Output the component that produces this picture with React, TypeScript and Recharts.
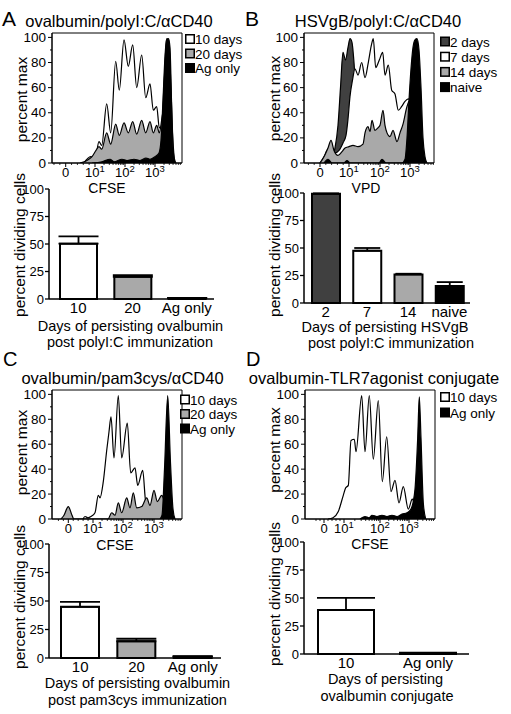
import React from "react";
import {
  ComposedChart,
  Area,
  XAxis,
  YAxis,
  ReferenceArea,
  BarChart,
  Bar,
  Cell,
  ErrorBar,
} from "recharts";

const FONT = '"Liberation Sans", Arial, Helvetica, sans-serif';
const WHITE = "#ffffff";
const GRAY = "#a9a9a9";
const DARK = "#404040";
const BLACK = "#000000";

// histograms: [channel position along the logicle axis, percent of max]
const a10days: [number, number][] = [[32,0],[38.7,5],[43,3],[47,17],[49.7,14],[54.7,47],[58.7,24],[63.7,81],[67.3,58],[72,98],[76.3,77],[80.7,94],[84.7,60],[89.7,86],[93.7,52],[98,63],[101.3,42],[104.7,45],[107.3,28],[109.7,30],[112,62],[114.7,99],[116.5,97],[118.5,70],[120.5,25],[122.5,0]];
const a20days: [number, number][] = [[28,0],[35,2],[40,5],[44,10],[47,13],[49.7,11],[54.7,24],[58.7,15],[63.7,31],[67.3,22],[72,32],[76.3,24],[80.7,33],[84.7,23],[89.7,34],[93.7,24],[98,33],[101.3,24],[104.7,30],[107.3,24],[110,36],[112,46],[114,50],[116,40],[119,15],[122,0]];
const aAgOnly: [number, number][] = [[40,0],[50,1],[58,3],[62,1],[70,3],[75,2],[82,3],[88,2],[94,4],[98,3],[103,5],[107,8],[109,18],[111,50],[113,85],[114.5,98],[116.5,99],[118,92],[119.5,50],[121,12],[122.5,3],[124,0]];

const b2days: [number, number][] = [[18,0],[24,2],[28,4],[31,12],[34,30],[36.5,60],[39,88],[41.5,82],[44,92],[46,99],[48,96],[50,80],[52,55],[55,28],[58,10],[62,2],[66,0]];
const b7days: [number, number][] = [[16,0],[20,5],[23,10],[27,13],[31,8],[35,10],[39,16],[42,22],[44,35],[46,53],[48.5,66],[51,75],[54,70],[57.7,80],[61,68],[64.3,80],[67.7,95],[69.3,99],[71.7,76],[75.3,82],[78.7,88],[81,70],[84.3,78],[87.7,58],[91,55],[94.3,42],[97.7,45],[101,49],[104.3,51],[108,45],[112,20],[116,0]];
const b14days: [number, number][] = [[16,0],[20,5],[24,12],[27,18],[30,10],[34,6],[38,9],[41,12],[45,13],[49,14],[54,13],[59,15],[61,24],[64,29],[66,25],[68,34],[71,26],[74,28],[76,30],[79,42],[81,30],[83,24],[86,21],[89,26],[93,17],[96,24],[99,31],[103,45],[106,50],[110,48],[114,30],[118,10],[122,0]];
const bNaive: [number, number][] = [[20,0],[24,3],[28,0],[40,0],[43,2],[46,0],[75,0],[78,3],[82,0],[98,0],[101,3],[103,20],[105,50],[107,75],[109,92],[111,98],[113,99],[115,90],[117,60],[119,20],[121,5],[123,0]];

const c10days: [number, number][] = [[31,0],[33,2],[36,1],[39,2],[43,5],[46.3,19],[48,17],[51.3,30],[54.7,55],[57,70],[59,82],[62,49],[66.3,99],[69.7,49],[75.3,77],[78.7,37],[83,41],[85.7,27],[90.7,39],[93.7,14],[97,10],[101,6],[105,0]];
const c20days: [number, number][] = [[9,0],[12,3],[16.3,10],[20,3],[22,0],[56,0],[59.7,5],[63,3],[66.3,13],[69.7,5],[74.7,17],[78,9],[81.3,21],[84.7,9],[89.7,10],[94.7,17],[98,11],[102,23],[105.3,14],[109.7,19],[112,15],[115,3],[117,0]];
const cAgOnly: [number, number][] = [[108,0],[110,3],[112.5,40],[115.7,99],[118.5,45],[121,8],[123,0]];

const d10days: [number, number][] = [[23,0],[28,1],[33.3,6],[38.3,19],[40.7,25],[43.3,27],[46,63],[49.3,64],[51,54],[56.7,99],[60,54],[64.3,99],[68.3,48],[73.3,95],[77.3,30],[81.7,66],[86,22],[90,31],[94,13],[98.3,26],[103.3,8],[107.3,16],[110,10],[114,0]];
const dAgOnly: [number, number][] = [[55,0],[60,2],[64,1],[67,3],[72,2],[77,3],[82,2],[87,3],[92,2],[97,4],[102,5],[106,8],[108,13],[110,24],[112.7,65],[114.3,98],[116,65],[118.3,13],[120.7,0]];

// decade positions (0, 10^1, 10^2, 10^3) on each histogram axis
const aDecades = [13.7, 43, 73, 103];
const bDecades = [16, 45, 76, 106];
const cDecades = [16.3, 41, 71, 102];
const dDecades = [19, 39, 75, 104];
const decadeLabels = ["0", "1", "2", "3"];

// bar charts: percent dividing cells
const aCats = ["10", "20", "Ag only"];
const aVals = [50.3, 20.2, 0.8];
const aErrs = [6.7, 1.5, 0.3];
const bCats = ["2", "7", "14", "naive"];
const bVals = [99.3, 47.5, 26, 15.5];
const bErrs = [0.3, 2.5, 0.6, 3.5];
const cCats = ["10", "20", "Ag only"];
const cVals = [44.9, 14.7, 1.2];
const cErrs = [4.4, 2.2, 0.4];
const dCats = ["10", "Ag only"];
const dVals = [39.2, 1.0];
const dErrs = [10.9, 0.2];

const pctTicks = [0, 10, 20, 30, 40, 50, 60, 70, 80, 90, 100];

function minorTicks(dec: number[]) {
  const out: number[] = [];
  const step = (dec[1] - dec[0]) / 5;
  for (let k = -2; k < 5; k++) if (k !== 0) out.push(dec[0] + step * k);
  const d = [...dec.slice(1), dec[3] + (dec[3] - dec[2])];
  for (let i = 0; i < d.length - 1; i++)
    for (let m = 2; m <= 9; m++) out.push(d[i] + (d[i + 1] - d[i]) * Math.log10(m));
  return out.filter((v) => v > 0.5 && v < 129.5);
}

function LogTick(props: any) {
  const { x, y, payload, decades } = props;
  const i = decades.findIndex((m: number) => Math.abs(m - payload.value) < 0.01);
  if (i < 0) return <line x1={x} x2={x} y1={y} y2={y + 2} stroke="#000" strokeWidth={0.8} />;
  return (
    <g>
      <line x1={x} x2={x} y1={y} y2={y + 4} stroke="#000" strokeWidth={1} />
      <text x={x} y={y + 14} textAnchor="middle" fontSize={13} fontFamily={FONT} fill="#000">
        {i === 0 ? "0" : "10"}
        {i > 0 && (
          <tspan dy={-5} fontSize={9.5}>
            {decadeLabels[i]}
          </tspan>
        )}
      </text>
    </g>
  );
}

function PctTick(props: any) {
  const { x, y, payload } = props;
  const major = payload.value % 20 === 0;
  return (
    <g>
      <line x1={x - (major ? 4 : 2)} x2={x} y1={y} y2={y} stroke="#000" strokeWidth={1} />
      {major && (
        <text x={x - 6} y={y + 4.5} textAnchor="end" fontSize={13.5} fontFamily={FONT} fill="#000">
          {payload.value}
        </text>
      )}
    </g>
  );
}

function BarYTick(props: any) {
  const { x, y, payload } = props;
  return (
    <g>
      <line x1={x - 4} x2={x} y1={y} y2={y} stroke="#000" strokeWidth={1.3} />
      <text x={x - 5} y={y + 4.5} textAnchor="end" fontSize={13} fontFamily={FONT} fill="#000">
        {payload.value}
      </text>
    </g>
  );
}

function CatTick(props: any) {
  const { x, y, payload } = props;
  return (
    <text x={x} y={y + 14} textAnchor="middle" fontSize={15} fontFamily={FONT} fill="#000">
      {payload.value}
    </text>
  );
}

type Series = { name: string; points: [number, number][]; fill: string };

function Histogram({ left, top, plotH, series, decades }: {
  left: number; top: number; plotH: number; series: Series[]; decades: number[];
}) {
  const ticks = [...decades, ...minorTicks(decades)].sort((p, q) => p - q);
  return (
    <div style={{ position: "absolute", left: left - 40, top: top - 8 }}>
      <ComposedChart width={174} height={plotH + 38} margin={{ top: 8, right: 4, bottom: 0, left: 0 }}>
        <XAxis
          type="number"
          dataKey="x"
          domain={[0, 130]}
          allowDataOverflow
          ticks={ticks}
          interval={0}
          height={30}
          tickSize={0}
          tickMargin={0}
          axisLine={{ stroke: "#000" }}
          tick={<LogTick decades={decades} />}
        />
        <YAxis
          type="number"
          domain={[0, 103.5]}
          allowDataOverflow
          ticks={pctTicks}
          interval={0}
          width={40}
          tickSize={0}
          tickMargin={0}
          axisLine={{ stroke: "#000" }}
          tick={<PctTick />}
        />
        {series.map((s) => (
          <Area
            key={s.name}
            data={s.points.map(([x, y]) => ({ x, y }))}
            dataKey="y"
            type="monotone"
            fill={s.fill}
            fillOpacity={1}
            stroke="#000"
            strokeWidth={1.2}
            dot={false}
            activeDot={false}
            isAnimationActive={false}
          />
        ))}
        <ReferenceArea x1={0} x2={130} y1={0} y2={103.5} fill="none" stroke="#000" strokeWidth={1} />
      </ComposedChart>
    </div>
  );
}

function DividingBars({ left, top, width, height, cats, vals, errs, fills, barSize, cap, padLeft }: {
  left: number; top: number; width: number; height: number; cats: string[]; vals: number[];
  errs: number[]; fills: string[]; barSize: number; cap: number; padLeft: number;
}) {
  const data = cats.map((c, i) => ({ cat: c, v: vals[i], err: [0, errs[i]] }));
  return (
    <div style={{ position: "absolute", left: left - 40, top: top - 10 }}>
      <BarChart width={width + 45} height={height + 30} data={data} margin={{ top: 10, right: 5, bottom: 0, left: 0 }}>
        <XAxis
          dataKey="cat"
          type="category"
          height={20}
          padding={{ left: padLeft, right: 0 }}
          tickLine={false}
          tickSize={0}
          tickMargin={0}
          interval={0}
          axisLine={{ stroke: "#000", strokeWidth: 1.5 }}
          tick={<CatTick />}
        />
        <YAxis
          type="number"
          domain={[0, 100]}
          ticks={[0, 25, 50, 75, 100]}
          interval={0}
          width={40}
          tickSize={0}
          tickMargin={0}
          axisLine={{ stroke: "#000", strokeWidth: 1.5 }}
          tick={<BarYTick />}
        />
        <Bar dataKey="v" barSize={barSize} stroke="#000" strokeWidth={2} isAnimationActive={false}>
          {fills.map((f, i) => (
            <Cell key={i} fill={f} />
          ))}
          <ErrorBar dataKey="err" width={cap} stroke="#000" strokeWidth={1.8} direction="y" isAnimationActive={false} />
        </Bar>
      </BarChart>
    </div>
  );
}

function Legend({ x, y, gap, items }: { x: number; y: number; gap: number; items: { label: string; fill: string }[] }) {
  return (
    <g>
      {items.map((it, i) => (
        <g key={it.label}>
          <rect x={x + 0.75} y={y + i * gap + 0.75} width={8.5} height={8.5} fill={it.fill} stroke="#000" strokeWidth={1.5} />
          <text x={x + 10} y={y + i * gap + 10} fontSize={13.5} fontFamily={FONT} fill="#000">
            {it.label}
          </text>
        </g>
      ))}
    </g>
  );
}

function VLabel({ cx, cy, text }: { cx: number; cy: number; text: string }) {
  return (
    <text transform={`translate(${cx},${cy}) rotate(-90)`} textAnchor="middle" dy="0.35em" fontSize={15.5} fontFamily={FONT} fill="#000">
      {text}
    </text>
  );
}

function T({ x, y, size, text, anchor = "middle" }: { x: number; y: number; size: number; text: string; anchor?: string }) {
  return (
    <text x={x} y={y} fontSize={size} textAnchor={anchor as any} fontFamily={FONT} fill="#000">
      {text}
    </text>
  );
}

export default function App() {
  return (
    <div style={{ position: "absolute", left: 0, top: 0, width: 511, height: 714, background: "#fff", overflow: "hidden", fontFamily: FONT }}>
      <Histogram left={52} top={33} plotH={130} decades={aDecades} series={[
        { name: "10 days", points: a10days, fill: WHITE },
        { name: "20 days", points: a20days, fill: GRAY },
        { name: "Ag only", points: aAgOnly, fill: BLACK },
      ]} />
      <Histogram left={304} top={33} plotH={130} decades={bDecades} series={[
        { name: "2 days", points: b2days, fill: DARK },
        { name: "7 days", points: b7days, fill: WHITE },
        { name: "14 days", points: b14days, fill: GRAY },
        { name: "naive", points: bNaive, fill: BLACK },
      ]} />
      <Histogram left={52} top={390} plotH={129} decades={cDecades} series={[
        { name: "10 days", points: c10days, fill: WHITE },
        { name: "20 days", points: c20days, fill: GRAY },
        { name: "Ag only", points: cAgOnly, fill: BLACK },
      ]} />
      <Histogram left={305} top={389.5} plotH={129} decades={dDecades} series={[
        { name: "10 days", points: d10days, fill: WHITE },
        { name: "Ag only", points: dAgOnly, fill: BLACK },
      ]} />

      <DividingBars left={49} top={189} width={165} height={110} cats={aCats} vals={aVals} errs={aErrs} fills={[WHITE, GRAY, BLACK]} barSize={37} cap={20} padLeft={2} />
      <DividingBars left={304} top={193} width={166} height={110} cats={bCats} vals={bVals} errs={bErrs} fills={[DARK, WHITE, GRAY, BLACK]} barSize={28} cap={13} padLeft={1} />
      <DividingBars left={49} top={544} width={172} height={114} cats={cCats} vals={cVals} errs={cErrs} fills={[WHITE, GRAY, BLACK]} barSize={38} cap={20} padLeft={3} />
      <DividingBars left={304} top={542} width={165} height={112} cats={dCats} vals={dVals} errs={dErrs} fills={[WHITE, BLACK]} barSize={56} cap={29} padLeft={1} />

      <svg width={511} height={714} style={{ position: "absolute", left: 0, top: 0, pointerEvents: "none" }}>
        <T x={2} y={26} size={21} text="A" anchor="start" />
        <T x={245} y={26} size={21} text="B" anchor="start" />
        <T x={3} y={366} size={20} text="C" anchor="start" />
        <T x={246} y={366} size={20} text="D" anchor="start" />

        <T x={119} y={27} size={16.5} text="ovalbumin/polyI:C/αCD40" />
        <T x={378} y={27} size={16.5} text="HSVgB/polyI:C/αCD40" />
        <T x={122.5} y={384} size={16.5} text="ovalbumin/pam3cys/αCD40" />
        <T x={374} y={384} size={16.5} text="ovalbumin-TLR7agonist conjugate" />

        <VLabel cx={21.5} cy={99.5} text="percent max" />
        <VLabel cx={275} cy={98.5} text="percent max" />
        <VLabel cx={21.5} cy={452.5} text="percent max" />
        <VLabel cx={275} cy={450} text="percent max" />
        <VLabel cx={19.5} cy={245} text="percent dividing cells" />
        <VLabel cx={274.5} cy={245} text="percent dividing cells" />
        <VLabel cx={19.5} cy={597} text="percent dividing cells" />
        <VLabel cx={274.5} cy={594} text="percent dividing cells" />

        <T x={107} y={193} size={14} text="CFSE" />
        <T x={366} y={193} size={14} text="VPD" />
        <T x={115} y={550} size={14} text="CFSE" />
        <T x={370} y={549} size={14} text="CFSE" />

        <Legend x={185} y={34} gap={14.5} items={[
          { label: "10 days", fill: WHITE }, { label: "20 days", fill: GRAY }, { label: "Ag only", fill: BLACK },
        ]} />
        <Legend x={440} y={36.5} gap={15.2} items={[
          { label: "2 days", fill: DARK }, { label: "7 days", fill: WHITE }, { label: "14 days", fill: GRAY }, { label: "naive", fill: BLACK },
        ]} />
        <Legend x={180} y={394.5} gap={14.5} items={[
          { label: "10 days", fill: WHITE }, { label: "20 days", fill: GRAY }, { label: "Ag only", fill: BLACK },
        ]} />
        <Legend x={440} y={392} gap={15.5} items={[
          { label: "10 days", fill: WHITE }, { label: "Ag only", fill: BLACK },
        ]} />

        <T x={130.5} y={331} size={14.5} text="Days of persisting ovalbumin" />
        <T x={130} y={347} size={14.5} text="post polyI:C immunization" />
        <T x={385} y={332} size={14.5} text="Days of persisting HSVgB" />
        <T x={391} y={348} size={14.5} text="post polyI:C immunization" />
        <T x={137.5} y={688} size={14.5} text="Days of persisting ovalbumin" />
        <T x={137.5} y={705} size={14.5} text="post pam3cys immunization" />
        <T x={385.5} y={684} size={14.5} text="Days of persisting" />
        <T x={387} y={701} size={14.5} text="ovalbumin conjugate" />
      </svg>
    </div>
  );
}
